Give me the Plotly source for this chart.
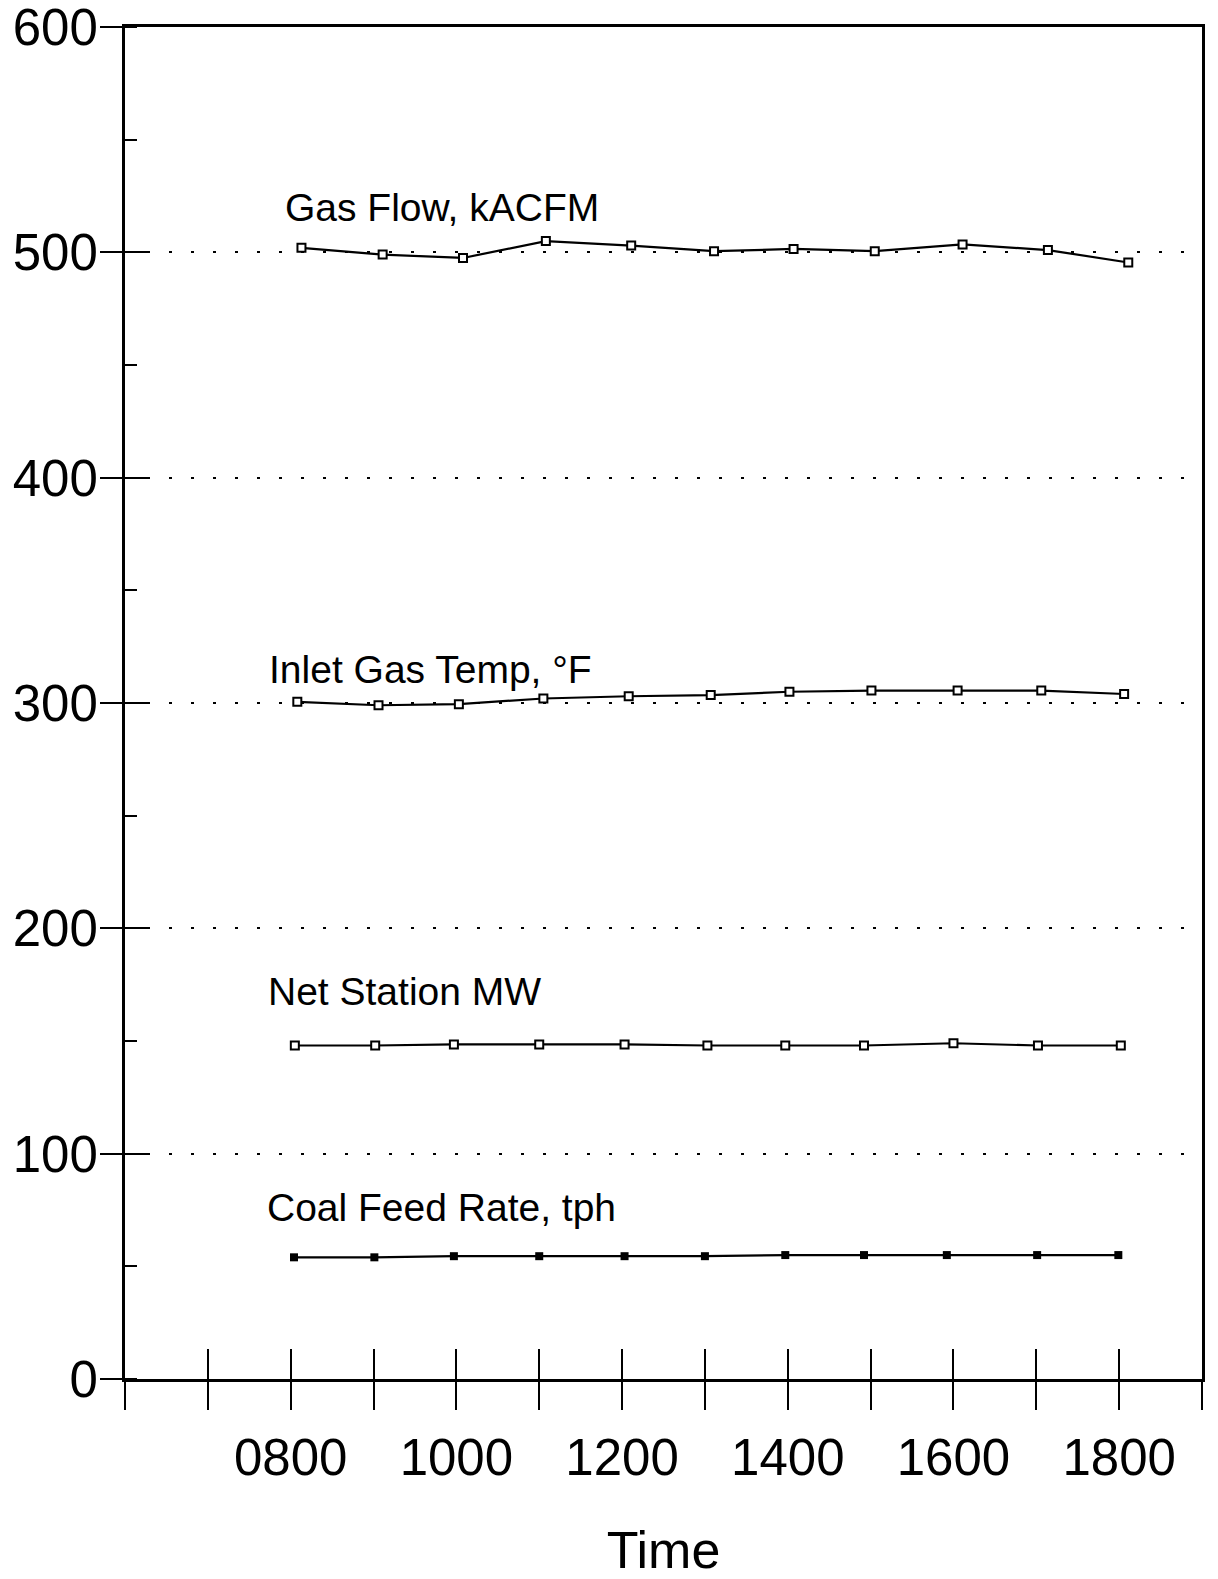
import plotly.graph_objects as go

# ---- data (time in decimal hours) ----
gas_time = [8.13, 9.11, 10.08, 11.08, 12.11, 13.11, 14.07, 15.05, 16.11, 17.14, 18.11]
gas_flow = [502, 499, 497.5, 505, 503, 500.5, 501.5, 500.5, 503.5, 501, 495.5]

temp_time = [8.08, 9.06, 10.03, 11.05, 12.08, 13.07, 14.02, 15.01, 16.05, 17.06, 18.06]
inlet_temp = [300.5, 299, 299.5, 302, 303, 303.5, 305, 305.5, 305.5, 305.5, 304]

mw_time = [8.05, 9.02, 9.97, 11.0, 12.03, 13.03, 13.97, 14.92, 16.0, 17.02, 18.02]
net_mw = [148, 148, 148.5, 148.5, 148.5, 148, 148, 148, 149, 148, 148]

coal_time = [8.04, 9.01, 9.97, 11.0, 12.03, 13.0, 13.97, 14.92, 15.92, 17.01, 17.99]
coal_feed = [54, 54, 54.5, 54.5, 54.5, 54.5, 55, 55, 55, 55, 55]

series_labels = ["Gas Flow, kACFM", "Inlet Gas Temp, °F", "Net Station MW", "Coal Feed Rate, tph"]
label_x = [7.91, 7.71, 7.70, 7.69]
label_y = [520, 315, 172, 76]

hour_ticks = list(range(6, 20))
hour_text = ["%04d" % (h * 100) if (h % 2 == 0 and 8 <= h <= 18) else "" for h in hour_ticks]

y_ticks = [0, 100, 200, 300, 400, 500, 600]

fig = go.Figure()

line_style = dict(color="black", width=2.2)
open_marker = dict(symbol="square", size=8, color="white", line=dict(width=2, color="black"))
filled_marker = dict(symbol="square", size=8, color="black")

fig.add_trace(go.Scatter(x=gas_time, y=gas_flow, mode="lines+markers", line=line_style,
                         marker=open_marker, name=series_labels[0]))
fig.add_trace(go.Scatter(x=temp_time, y=inlet_temp, mode="lines+markers", line=line_style,
                         marker=open_marker, name=series_labels[1]))
fig.add_trace(go.Scatter(x=mw_time, y=net_mw, mode="lines+markers", line=line_style,
                         marker=open_marker, name=series_labels[2]))
fig.add_trace(go.Scatter(x=coal_time, y=coal_feed, mode="lines+markers", line=line_style,
                         marker=filled_marker, name=series_labels[3]))
# empty trace to host the overlay axes (inside halves of crossing ticks)
fig.add_trace(go.Scatter(x=[None], y=[None], xaxis="x2", yaxis="y2", showlegend=False, hoverinfo="skip"))

for txt, lx, ly in zip(series_labels, label_x, label_y):
    fig.add_annotation(x=lx, y=ly, text=txt, showarrow=False, xanchor="left", yanchor="middle",
                       font=dict(family="Liberation Sans, Arial, sans-serif", size=39, color="black"))

tick_font = dict(family="Liberation Sans, Arial, sans-serif", size=51, color="black")

fig.update_layout(
    width=1218, height=1579,
    margin=dict(l=125, r=16, t=27, b=200),
    paper_bgcolor="white", plot_bgcolor="white",
    showlegend=False,
    xaxis=dict(range=[6, 19], tickmode="array", tickvals=hour_ticks, ticktext=hour_text,
               ticks="outside", ticklen=28, tickwidth=2, tickcolor="black",
               showline=True, linecolor="black", linewidth=3, mirror=True,
               showgrid=False, zeroline=False, tickfont=tick_font, ticklabelstandoff=4,
               automargin=False, ticklabeloverflow="allow",
               title=dict(text="Time", font=dict(family="Liberation Sans, Arial, sans-serif", size=52, color="black"),
                          standoff=59)),
    yaxis=dict(range=[0, 600], tickmode="array", tickvals=y_ticks,
               ticks="outside", ticklen=22, tickwidth=2, tickcolor="black",
               showline=True, linecolor="black", linewidth=3, mirror=True,
               showgrid=True, gridcolor="black", gridwidth=2, griddash="3px,19px",
               zeroline=False, tickfont=tick_font, ticklabelstandoff=-8, automargin=False,
               ticklabeloverflow="allow",
               minor=dict(dtick=50, tick0=0, ticks="inside", ticklen=12, tickwidth=2, tickcolor="black",
                          showgrid=False)),
    xaxis2=dict(range=[6, 19], overlaying="x", anchor="y2", side="bottom", tickmode="array",
                tickvals=hour_ticks, ticks="inside", ticklen=30, tickwidth=2, tickcolor="black",
                showticklabels=False, showline=False, showgrid=False, zeroline=False, automargin=False),
    yaxis2=dict(range=[0, 600], overlaying="y", anchor="x2", side="left", tickmode="array",
                tickvals=y_ticks[1:-1], ticks="inside", ticklen=24, tickwidth=2, tickcolor="black",
                showticklabels=False, showline=False, showgrid=False, zeroline=False, automargin=False),
)

fig.write_html("out.html", config={"displayModeBar": False},
               post_script="document.body.style.margin='0';document.body.style.overflow='hidden';")
